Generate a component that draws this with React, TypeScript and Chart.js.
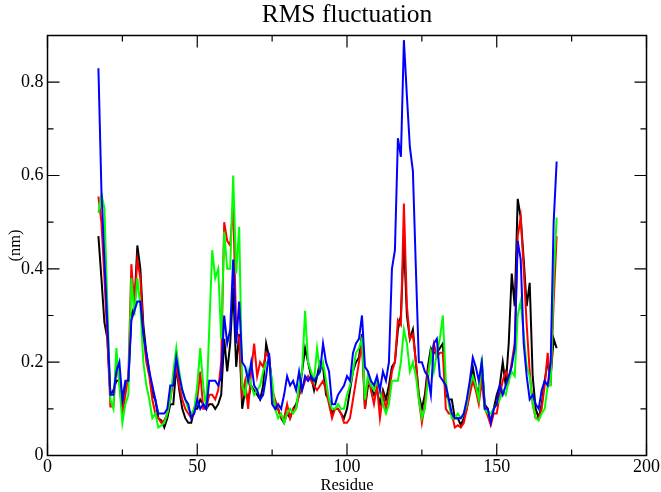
import { useEffect, useRef } from "react";
import { Chart, registerables } from "chart.js";

Chart.register(...registerables);

const SERIF = "'Liberation Serif', 'Times New Roman', serif";

const chartTitle = "RMS fluctuation";
const xTitle = "Residue";
const yTitle = "(nm)";

const residues = [
  17, 18, 19, 20, 21, 22, 23, 24, 25, 26,
  27, 28, 29, 30, 31, 32, 33, 34, 35, 36,
  37, 38, 39, 40, 41, 42, 43, 44, 45, 46,
  47, 48, 49, 50, 51, 52, 53, 54, 55, 56,
  57, 58, 59, 60, 61, 62, 63, 64, 65, 66,
  67, 68, 69, 70, 71, 72, 73, 74, 75, 76,
  77, 78, 79, 80, 81, 82, 83, 84, 85, 86,
  87, 88, 89, 90, 91, 92, 93, 94, 95, 96,
  97, 98, 99, 100, 101, 102, 103, 104, 105, 106,
  107, 108, 109, 110, 111, 112, 113, 114, 115, 116,
  117, 118, 119, 120, 121, 122, 123, 124, 125, 126,
  127, 128, 129, 130, 131, 132, 133, 134, 135, 136,
  137, 138, 139, 140, 141, 142, 143, 144, 145, 146,
  147, 148, 149, 150, 151, 152, 153, 154, 155, 156,
  157, 158, 159, 160, 161, 162, 163, 164, 165, 166,
  167, 168, 169, 170,
];

const seriesBlack = [
  0.47, 0.38, 0.285, 0.25, 0.13, 0.14, 0.16, 0.16, 0.11, 0.15,
  0.16, 0.30, 0.32, 0.45, 0.40, 0.28, 0.22, 0.18, 0.13, 0.12,
  0.08, 0.075, 0.06, 0.08, 0.11, 0.11, 0.19, 0.14, 0.10, 0.08,
  0.07, 0.07, 0.10, 0.10, 0.12, 0.11, 0.10, 0.11, 0.11, 0.10,
  0.11, 0.13, 0.25, 0.18, 0.24, 0.36, 0.19, 0.26, 0.10, 0.14,
  0.12, 0.15, 0.14, 0.13, 0.12, 0.15, 0.24, 0.21, 0.15, 0.10,
  0.10, 0.08, 0.07, 0.09, 0.08, 0.10, 0.11, 0.13, 0.18, 0.23,
  0.20, 0.17, 0.14, 0.17, 0.20, 0.19, 0.13, 0.12, 0.09, 0.10,
  0.10, 0.09, 0.08, 0.10, 0.14, 0.18, 0.20, 0.21, 0.26, 0.10,
  0.15, 0.15, 0.13, 0.14, 0.11, 0.14, 0.12, 0.15, 0.19, 0.20,
  0.27, 0.30, 0.46, 0.30, 0.25, 0.27, 0.20, 0.13, 0.10, 0.13,
  0.19, 0.23, 0.22, 0.22, 0.23, 0.24, 0.13, 0.12, 0.12, 0.08,
  0.08, 0.065, 0.08, 0.10, 0.14, 0.19, 0.15, 0.13, 0.20, 0.11,
  0.10, 0.07, 0.10, 0.13, 0.15, 0.20, 0.15, 0.24, 0.39, 0.32,
  0.55, 0.51, 0.42, 0.32, 0.37, 0.17, 0.10, 0.08, 0.11, 0.16,
  0.20, 0.17, 0.25, 0.23,
];

const seriesRed = [
  0.555, 0.50, 0.38, 0.25, 0.105, 0.105, 0.20, 0.16, 0.09, 0.13,
  0.17, 0.41, 0.32, 0.42, 0.38, 0.26, 0.20, 0.17, 0.12, 0.09,
  0.08, 0.07, 0.075, 0.09, 0.12, 0.16, 0.19, 0.15, 0.12, 0.10,
  0.09, 0.08, 0.10, 0.12, 0.18, 0.10, 0.10, 0.13, 0.13, 0.12,
  0.14, 0.20, 0.50, 0.46, 0.45, 0.54, 0.27, 0.25, 0.13, 0.16,
  0.10, 0.18, 0.24, 0.17, 0.20, 0.19, 0.22, 0.21, 0.14, 0.12,
  0.10, 0.08, 0.08, 0.11, 0.08, 0.10, 0.10, 0.13, 0.14, 0.16,
  0.17, 0.16, 0.15, 0.14, 0.15, 0.16, 0.14, 0.11, 0.08, 0.10,
  0.10, 0.09, 0.07, 0.07, 0.08, 0.12, 0.16, 0.20, 0.24, 0.10,
  0.17, 0.14, 0.11, 0.15, 0.08, 0.13, 0.10, 0.13, 0.18, 0.20,
  0.29, 0.28, 0.54, 0.32, 0.25, 0.26, 0.20, 0.12, 0.07, 0.11,
  0.18, 0.21, 0.24, 0.21, 0.22, 0.22, 0.10, 0.09, 0.09, 0.06,
  0.065, 0.06, 0.07, 0.10, 0.13, 0.16, 0.14, 0.11, 0.16, 0.10,
  0.085, 0.065, 0.09, 0.09, 0.13, 0.16, 0.18, 0.16, 0.20, 0.24,
  0.47, 0.51, 0.40, 0.28, 0.18, 0.11, 0.08, 0.08, 0.10, 0.15,
  0.22, 0.15, 0.33, 0.47,
];

const seriesGreen = [
  0.52, 0.56, 0.53, 0.32, 0.12, 0.10, 0.23, 0.15, 0.07, 0.11,
  0.13, 0.38, 0.30, 0.38, 0.32, 0.20, 0.15, 0.12, 0.08, 0.09,
  0.06, 0.065, 0.07, 0.09, 0.12, 0.18, 0.23, 0.18, 0.14, 0.12,
  0.10, 0.09, 0.10, 0.15, 0.23, 0.15, 0.10, 0.27, 0.44, 0.38,
  0.40, 0.25, 0.48, 0.40, 0.40, 0.60, 0.39, 0.49, 0.15, 0.13,
  0.18, 0.15, 0.13, 0.14, 0.15, 0.18, 0.20, 0.20, 0.16, 0.10,
  0.08, 0.09, 0.07, 0.09, 0.10, 0.09, 0.10, 0.15, 0.18, 0.31,
  0.20, 0.18, 0.16, 0.23, 0.18, 0.20, 0.16, 0.12, 0.10, 0.10,
  0.11, 0.10, 0.10, 0.13, 0.15, 0.18, 0.22, 0.23, 0.25, 0.12,
  0.17, 0.15, 0.14, 0.16, 0.14, 0.11, 0.09, 0.11, 0.16, 0.16,
  0.16, 0.20, 0.27, 0.24, 0.18, 0.20, 0.17, 0.12, 0.08, 0.10,
  0.16, 0.22, 0.18, 0.22, 0.25, 0.30, 0.16, 0.11, 0.08, 0.08,
  0.09, 0.08, 0.09, 0.11, 0.15, 0.17, 0.15, 0.12, 0.21, 0.10,
  0.09, 0.09, 0.10, 0.11, 0.12, 0.14, 0.13, 0.16, 0.18, 0.17,
  0.30, 0.33, 0.26, 0.19, 0.17, 0.11, 0.08, 0.075, 0.09, 0.10,
  0.15, 0.15, 0.38, 0.51,
];

const seriesBlue = [
  0.83, 0.57, 0.42, 0.28, 0.13, 0.13, 0.18, 0.20, 0.12, 0.16,
  0.16, 0.29, 0.31, 0.33, 0.33, 0.26, 0.22, 0.18, 0.15, 0.12,
  0.09, 0.09, 0.09, 0.10, 0.15, 0.15, 0.21, 0.17, 0.14, 0.12,
  0.11, 0.08, 0.09, 0.12, 0.10, 0.11, 0.10, 0.16, 0.16, 0.16,
  0.15, 0.17, 0.30, 0.24, 0.27, 0.42, 0.24, 0.33, 0.20, 0.19,
  0.16, 0.20, 0.15, 0.14, 0.12, 0.13, 0.17, 0.22, 0.11, 0.10,
  0.11, 0.10, 0.13, 0.17, 0.15, 0.16, 0.14, 0.18, 0.14, 0.17,
  0.16, 0.17, 0.16, 0.17, 0.18, 0.24, 0.20, 0.18, 0.11, 0.11,
  0.13, 0.14, 0.15, 0.17, 0.16, 0.22, 0.24, 0.25, 0.30, 0.19,
  0.18, 0.16, 0.15, 0.17, 0.14, 0.18, 0.16, 0.20, 0.40, 0.44,
  0.68, 0.64, 0.89, 0.77, 0.66, 0.61, 0.40, 0.20, 0.20, 0.18,
  0.17, 0.13, 0.24, 0.25, 0.17, 0.16, 0.15, 0.12, 0.09, 0.08,
  0.08, 0.08, 0.09, 0.12, 0.16, 0.21, 0.19, 0.16, 0.20, 0.10,
  0.10, 0.07, 0.10, 0.11, 0.15, 0.13, 0.15, 0.17, 0.19, 0.23,
  0.46, 0.42, 0.24, 0.17, 0.12, 0.13, 0.11, 0.10, 0.14, 0.16,
  0.15, 0.20, 0.50, 0.63,
];

const frameTicks = {
  id: "frameTicks",
  afterDatasetsDraw(chart: any) {
    const { ctx, chartArea: a, scales } = chart;
    const xs = scales.x;
    const ys = scales.y;
    ctx.save();
    ctx.strokeStyle = "#000";
    ctx.lineWidth = 1.5;
    ctx.strokeRect(a.left, a.top, a.right - a.left, a.bottom - a.top);
    ctx.lineWidth = 1.2;
    ctx.beginPath();
    xs.ticks.forEach((t: any) => {
      const px = xs.getPixelForValue(t.value);
      const len = Math.round(t.value) % 50 === 0 ? 12 : 6;
      ctx.moveTo(px, a.bottom);
      ctx.lineTo(px, a.bottom - len);
      ctx.moveTo(px, a.top);
      ctx.lineTo(px, a.top + len);
    });
    ys.ticks.forEach((t: any) => {
      const py = ys.getPixelForValue(t.value);
      const len = Math.round(t.value * 10) % 2 === 0 ? 12 : 6;
      ctx.moveTo(a.left, py);
      ctx.lineTo(a.left + len, py);
      ctx.moveTo(a.right, py);
      ctx.lineTo(a.right - len, py);
    });
    ctx.stroke();
    ctx.restore();
  },
  afterDraw(chart: any) {
    const { ctx, chartArea: a } = chart;
    ctx.save();
    ctx.fillStyle = "#000";
    ctx.font = `normal 25.5px ${SERIF}`;
    ctx.textAlign = "center";
    ctx.textBaseline = "alphabetic";
    ctx.fillText(chartTitle, (a.left + a.right) / 2, 22);
    ctx.restore();
  },
};

function toPoints(values: number[]) {
  return residues.map((r, i) => ({ x: r, y: values[i] }));
}

export default function App() {
  const ref = useRef<HTMLCanvasElement>(null);

  useEffect(() => {
    document.body.style.margin = "0";
    const canvas = ref.current;
    if (!canvas) return;
    const chart = new Chart(canvas, {
      type: "line",
      data: {
        datasets: [
          { label: "s0", data: toPoints(seriesBlack), borderColor: "#000000", order: 3 },
          { label: "s1", data: toPoints(seriesRed), borderColor: "#ff0000", order: 2 },
          { label: "s2", data: toPoints(seriesGreen), borderColor: "#00ff00", order: 1 },
          { label: "s3", data: toPoints(seriesBlue), borderColor: "#0000ff", order: 0 },
        ],
      },
      options: {
        animation: false,
        responsive: false,
        devicePixelRatio: 1,
        layout: { padding: { left: 0, right: 13.5, top: 35.5, bottom: 0 } },
        elements: {
          point: { radius: 0 },
          line: { borderWidth: 2, tension: 0, fill: false },
        },
        plugins: {
          legend: { display: false },
          tooltip: { enabled: false },
          title: { display: false },
        },
        scales: {
          x: {
            type: "linear",
            min: 0,
            max: 200,
            grid: { display: false, drawTicks: false },
            border: { display: false },
            ticks: {
              stepSize: 25,
              autoSkip: false,
              maxRotation: 0,
              color: "#000",
              padding: 1,
              font: { family: SERIF, size: 18 },
              callback: (v: any) => (Math.round(v) % 50 === 0 ? String(v) : ""),
            },
            title: {
              display: true,
              text: xTitle,
              color: "#000",
              font: { family: SERIF, size: 16.5, lineHeight: 1 },
              padding: { top: 0, bottom: -2 },
            },
            afterFit: (s: any) => {
              s.height = 36.5;
            },
          },
          y: {
            type: "linear",
            min: 0,
            max: 0.9,
            grid: { display: false, drawTicks: false },
            border: { display: false },
            ticks: {
              stepSize: 0.1,
              autoSkip: false,
              color: "#000",
              padding: 4,
              font: { family: SERIF, size: 18 },
              callback: (v: any) => {
                const t = Math.round(v * 10);
                if (t % 2 !== 0) return "";
                return t === 0 ? "0" : (t / 10).toString();
              },
            },
            title: {
              display: true,
              text: yTitle,
              color: "#000",
              font: { family: SERIF, size: 16.5, lineHeight: 1 },
              padding: { top: 7.75, bottom: 0 },
            },
            afterFit: (s: any) => {
              s.width = 47.5;
            },
          },
        },
      },
      plugins: [frameTicks],
    });
    return () => chart.destroy();
  }, []);

  return (
    <div style={{ width: 661, height: 492 }}>
      <canvas ref={ref} width={661} height={492} style={{ display: "block" }} />
    </div>
  );
}
